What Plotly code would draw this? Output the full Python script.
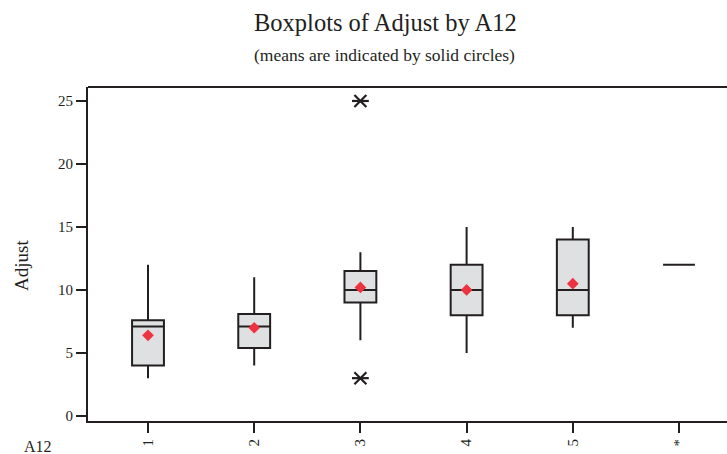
import plotly.graph_objects as go

categories = ["1", "2", "3", "4", "5", "*"]
q1 = [4.0, 5.4, 9.0, 8.0, 8.0, 12.0]
median = [7.1, 7.1, 10.0, 10.0, 10.0, 12.0]
q3 = [7.6, 8.1, 11.5, 12.0, 14.0, 12.0]
lower_whisker = [3.0, 4.0, 6.0, 5.0, 7.0, 12.0]
upper_whisker = [12.0, 11.0, 13.0, 15.0, 15.0, 12.0]
mean_cats = ["1", "2", "3", "4", "5"]
means = [6.4, 7.0, 10.2, 10.0, 10.5]
outlier_cats = ["3", "3"]
outlier_vals = [25.0, 3.0]
yticks = [0, 5, 10, 15, 20, 25]

INK = "#231f20"
FONT = "Liberation Serif"

fig = go.Figure()
fig.add_trace(go.Box(
    x=categories, q1=q1, median=median, q3=q3,
    lowerfence=lower_whisker, upperfence=upper_whisker,
    fillcolor="#dfe0e1", line=dict(color=INK, width=2),
    whiskerwidth=0, width=0.3, boxpoints=False, showlegend=False,
))
# outliers as asterisks (x + horizontal bar)
for sym in ["x-thin-open", "line-ew-open"]:
    fig.add_trace(go.Scatter(
        x=outlier_cats, y=outlier_vals, mode="markers",
        marker=dict(symbol=sym, size=12, color=INK, line=dict(color=INK, width=2.2)),
        showlegend=False,
    ))
fig.add_trace(go.Scatter(
    x=mean_cats, y=means, mode="markers",
    marker=dict(symbol="diamond", size=9, color="#ee3340"),
    showlegend=False,
))

fig.update_layout(
    width=727, height=454,
    margin=dict(l=88, r=0, t=87, b=33),
    plot_bgcolor="white", paper_bgcolor="white",
    font=dict(family=FONT, color=INK, size=15),
    xaxis=dict(
        type="category", categoryorder="array", categoryarray=categories,
        range=[-0.565, 5.452], showgrid=False, zeroline=False,
        showline=True, linecolor=INK, linewidth=2,
        ticks="outside", ticklen=10, tickwidth=2, tickcolor=INK,
        tickangle=-90, tickfont=dict(size=15, family=FONT),
    ),
    yaxis=dict(
        range=[-0.4, 26.11], tickvals=yticks, showgrid=False, zeroline=False,
        showline=True, linecolor=INK, linewidth=2,
        ticks="outside", ticklen=10, tickwidth=2, tickcolor=INK,
        tickfont=dict(size=15, family=FONT),
    ),
    shapes=[dict(type="line", xref="paper", yref="paper", x0=0, x1=1, y0=1, y1=1,
                 line=dict(color=INK, width=2))],
    annotations=[
        dict(text="Boxplots of Adjust by A12", xref="paper", yref="paper",
             x=(385 - 88) / 639, y=1 + (87 - 22) / 334, xanchor="center", yanchor="middle",
             showarrow=False, font=dict(size=24.5, family=FONT, color=INK)),
        dict(text="(means are indicated by solid circles)", xref="paper", yref="paper",
             x=(384 - 88) / 639, y=1 + (87 - 55) / 334, xanchor="center", yanchor="middle",
             showarrow=False, font=dict(size=17.5, family=FONT, color=INK)),
        dict(text="Adjust", xref="paper", yref="paper",
             x=-(88 - 21) / 639, y=(421 - 266) / 334, xanchor="center", yanchor="middle",
             textangle=-90, showarrow=False, font=dict(size=19, family=FONT, color=INK)),
        dict(text="A12", xref="paper", yref="paper",
             x=-(88 - 38) / 639, y=-(446 - 421) / 334, xanchor="center", yanchor="middle",
             showarrow=False, font=dict(size=16, family=FONT, color=INK)),
    ],
)

fig.write_html("out.html")
